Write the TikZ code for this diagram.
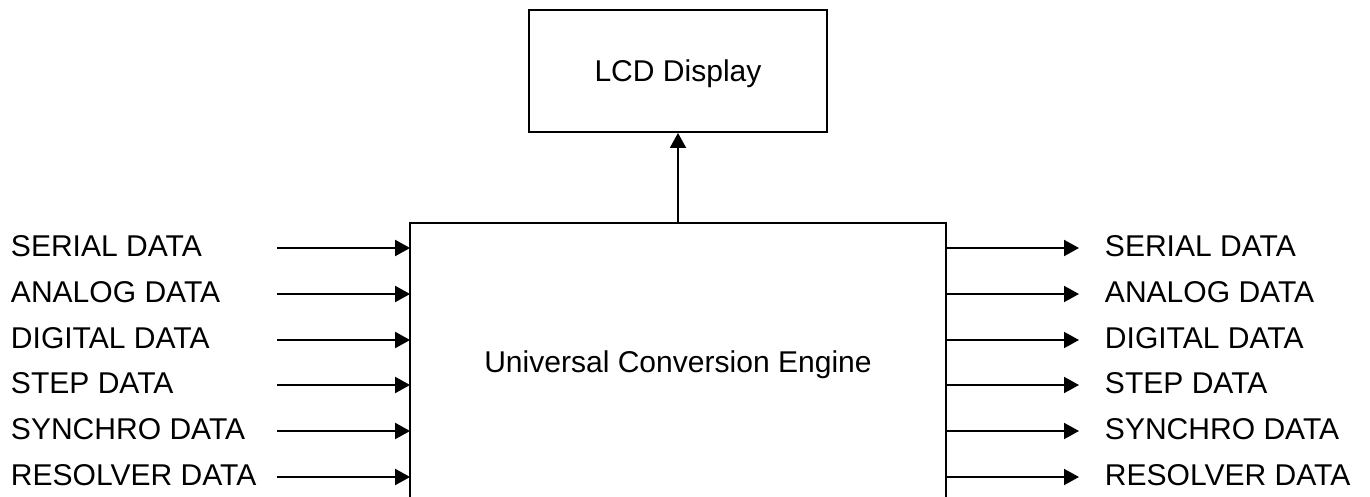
\documentclass[tikz,border=0pt]{standalone}
\usepackage{fontspec}
\setmainfont{Liberation Sans}
\usetikzlibrary{calc,arrows.meta}

\tikzset{
  flow/.style={line width=1.1pt,-{Triangle[length=0.3cm,width=0.32cm]}},
  sig/.style={inner sep=0pt,text depth=0pt,font=\fontsize{17.1}{20}\selectfont}
}

\begin{document}
\begin{tikzpicture}[x=0.02cm,y=-0.02cm,line width=1.1pt]
                      \useasboundingbox (0,0) rectangle (1370,497);
                      \node[draw,sig,minimum width=5.96cm,minimum height=2.44cm](lcd)at(678,71){LCD Display};
                      \node[minimum width=10.68cm,minimum height=5.6cm,inner sep=0pt](eng)at(678,364){};
                      \draw(eng.south west)--(eng.north west)--(eng.north east)--(eng.south east);
                      \node[sig](title)at(678,362){Universal Conversion Engine};
                      \draw[flow](eng.north)--(lcd.south);
                      \foreach \y/\t [count=\i] in {248/SERIAL DATA, 294/ANALOG DATA, 340/DIGITAL DATA, 385/STEP DATA, 431/SYNCHRO DATA, 477/RESOLVER DATA}{
                        \node[sig,anchor=west](in\i)at(10,\y-2){\t};
                        \coordinate(src\i)at(277,\y);
                        \draw[flow](src\i)--(src\i -| eng.west);
                        \node[sig,anchor=west](out\i)at(1104,\y-2){\t};
                        \coordinate(dst\i)at(1079,\y);
                        \draw[flow](dst\i -| eng.east)--(dst\i);
                      }
                  \end{tikzpicture}
\end{document}
